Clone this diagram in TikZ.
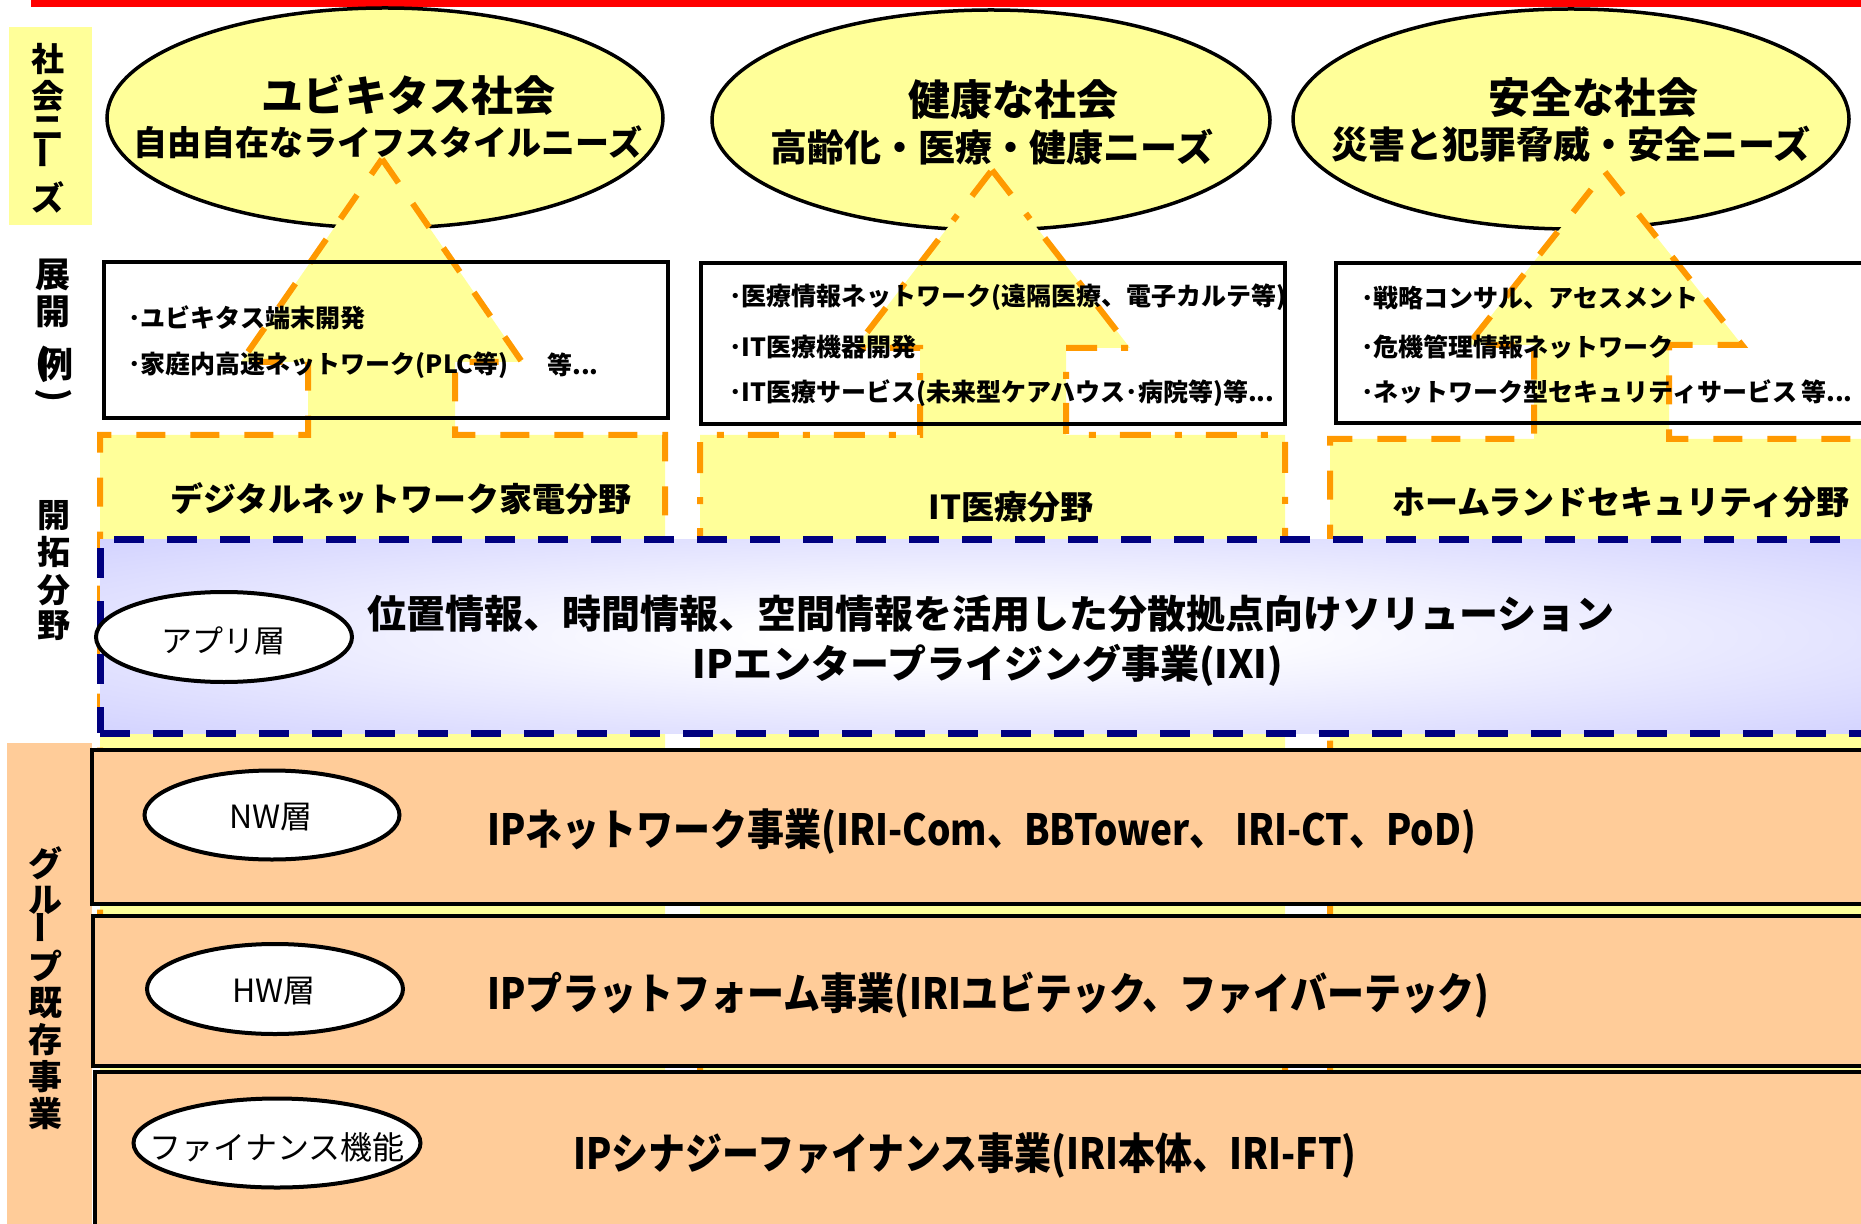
\documentclass[tikz,border=0pt]{standalone}
\usepackage{fontspec}
\setmainfont{Noto Sans CJK JP}
\newfontfamily\lyrfont[FakeStretch=0.86]{Noto Sans CJK JP}
\usetikzlibrary{shapes.geometric}
\definecolor{yel}{HTML}{FFFF99}
\definecolor{orng}{HTML}{FF9900}
\definecolor{lorg}{HTML}{FFCC99}
\definecolor{navyc}{HTML}{000080}
\definecolor{lav}{HTML}{CCCCFF}
\pgfdeclareradialshading{appshade}{\pgfpoint{0bp}{0bp}}{color(0bp)=(white); color(6bp)=(white); color(40bp)=(lav); color(50bp)=(lav)}
\newcommand\jpsz[1]{\fontsize{#1pt}{#1pt}\selectfont}
\begin{document}
\begin{tikzpicture}[x=0.5pt,y=-0.5pt,
  bigell/.style={ellipse, draw=black, line width=1.75pt, fill=yel, inner sep=0pt, minimum width=278pt, minimum height=110pt},
  smell/.style={ellipse, draw=black, line width=2pt, fill=white, inner sep=0pt},
  colA/.style={fill=yel, draw=orng, line width=3pt, dash pattern=on 14.5pt off 12.5pt},
  colB/.style={fill=yel, draw=orng, line width=3pt, dash pattern=on 15.5pt off 12pt on 3.5pt off 12pt},
  ebox/.style={draw=black, line width=1.75pt, inner sep=0pt},
  layer/.style={draw=black, line width=2pt, fill=lorg, inner sep=0pt},
  txt/.style={inner sep=0pt},
  smtxt/.style={inner sep=0pt, font=\jpsz{16}},
  lyrtxt/.style={inner sep=0pt, anchor=west, font=\lyrfont\bfseries\jpsz{21.5}},
  btxt/.style={inner sep=0pt, anchor=west, font=\bfseries\jpsz{12.5}},
  vlab/.style={inner sep=0pt, font=\bfseries\jpsz{16.5}},
]
\useasboundingbox (0,0) rectangle (1861,1224);
\clip (0,0) rectangle (1861,1224);

% top red bar and needs label
\fill[red] (31,0) rectangle (1861,7);
\node[fill=yel, inner sep=0pt, minimum width=41.5pt, minimum height=99pt] (needbox) at (50.5,126) {};

% society ellipses
\node[bigell] (e1) at (385,118) {};
\node[bigell, minimum width=279pt] (e2) at (991,120) {};
\node[bigell] (e3) at (1571,119) {};

% arrows + field columns
\path[colA] (382,159) -- (522,362) -- (455,362) -- (455,435) -- (665,435) -- (665,1240)
  -- (100,1240) -- (100,435) -- (308,435) -- (308,362) -- (241,362) -- cycle;
\path[colB] (992,170) -- (1130,348) -- (1066,348) -- (1066,435) -- (1285,435) -- (1285,1240)
  -- (700,1240) -- (700,435) -- (920,435) -- (920,348) -- (855,348) -- cycle;
\path[colA] (1605,172) -- (1742,345) -- (1669,345) -- (1669,439) -- (1885,439) -- (1885,1240)
  -- (1330,1240) -- (1330,439) -- (1534,439) -- (1534,345) -- (1468,345) -- cycle;

% ellipse texts
\node[txt, font=\bfseries\jpsz{21}] (e1a) at (408,95) {ユビキタス社会};
\node[txt, font=\bfseries\jpsz{17}] (e1b) at (388,142) {自由自在なライフスタイルニーズ};
\node[txt, font=\bfseries\jpsz{21}] (e2a) at (1013,100) {健康な社会};
\node[txt, font=\bfseries\jpsz{18.5}] (e2b) at (992,147) {高齢化・医療・健康ニーズ};
\node[txt, font=\bfseries\jpsz{21}] (e3a) at (1593,97) {安全な社会};
\node[txt, font=\bfseries\jpsz{18.5}] (e3b) at (1571,144) {災害と犯罪脅威・安全ニーズ};

% example boxes
\node[ebox, minimum width=282pt, minimum height=78pt] (b1) at (386,340) {};
\node[ebox, minimum width=292pt, minimum height=80.5pt] (b2) at (993,343.5) {};
\node[ebox, minimum width=282pt, minimum height=80pt] (b3) at (1618,343) {};

\node[btxt] (b1l1) at (128,318) {･ユビキタス端末開発};
\node[btxt] (b1l2) at (128,365) {･家庭内高速ネットワーク(PLC等)};
\node[btxt] (b1l2e) at (547,365) {等...};
\node[btxt] (b2l1) at (729,297) {･医療情報ネットワーク(遠隔医療、電子カルテ等)};
\node[btxt] (b2l2) at (729,347) {･IT医療機器開発};
\node[btxt] (b2l3) at (729,393) {･IT医療サービス(未来型ケアハウス･病院等)等...};
\node[btxt] (b3l1) at (1361,298) {･戦略コンサル、アセスメント};
\node[btxt] (b3l2) at (1361,347) {･危機管理情報ネットワーク};
\node[btxt] (b3l3) at (1361,392) {･ネットワーク型セキュリティサービス};
\node[btxt] (b3l3e) at (1801,392) {等...};

% field titles
\node[txt, font=\bfseries\jpsz{16.5}] (f1) at (401,499) {デジタルネットワーク家電分野};
\node[txt, font=\bfseries\jpsz{16.5}] (f2) at (1011,507) {IT医療分野};
\node[txt, font=\bfseries\jpsz{16.5}] (f3) at (1621,502) {ホームランドセキュリティ分野};

% application layer
\node[draw=navyc, line width=3.5pt, dash pattern=on 15pt off 11.5pt, shading=appshade,
  minimum width=890pt, minimum height=97pt, inner sep=0pt] (app) at (990,636) {};
\node[smell, minimum width=128pt, minimum height=45pt] (appell) at (224,637) {};
\node[txt, font=\jpsz{15.5}] (appellt) at (223,641) {アプリ層};
\node[txt, font=\bfseries\jpsz{19.5}] (appt1) at (991,614) {位置情報、時間情報、空間情報を活用した分散拠点向けソリューション};
\node[txt, font=\bfseries\jpsz{19.5}] (appt2) at (988,665) {IPエンタープライジング事業(IXI)};

% existing business layers
\node[fill=lorg, inner sep=0pt, minimum width=42.5pt, minimum height=248.5pt] (grpbox) at (49.5,991.5) {};
\node[layer, minimum width=894pt, minimum height=77pt] (nw) at (986,827) {};
\node[layer, minimum width=893.5pt, minimum height=75pt] (hw) at (986.5,991) {};
\node[layer, minimum width=892.5pt, minimum height=84pt] (fin) at (987.5,1156) {};

\node[smell, minimum width=127.5pt, minimum height=44.5pt] (nwell) at (272,815) {};
\node[smtxt] (nwellt) at (271,817) {NW層};
\node[smell, minimum width=128pt, minimum height=45pt] (hwell) at (275,989) {};
\node[smtxt] (hwellt) at (274,991) {HW層};
\node[smell, minimum width=143.5pt, minimum height=44.5pt] (finell) at (277,1143) {};
\node[smtxt] (finellt) at (277,1147) {ファイナンス機能};

\node[lyrtxt] (nwt) at (487,831) {IPネットワーク事業(IRI-Com、BBTower、 IRI-CT、PoD)};
\node[lyrtxt] (hwt) at (487,995) {IPプラットフォーム事業(IRIユビテック、ファイバーテック)};
\node[lyrtxt] (fint) at (573,1155) {IPシナジーファイナンス事業(IRI本体、IRI-FT)};

% vertical row labels
\node[vlab] (n1) at (48,59) {社};
\node[vlab] (n2) at (48,96) {会};
\node[vlab] (n3) at (48,128) {ニ};
\node[vlab, rotate=90] (n4) at (48,153) {ー};
\node[vlab] (n5) at (48,197) {ズ};

\node[vlab, font=\bfseries\jpsz{17.5}] (d1) at (53,275) {展};
\node[vlab, font=\bfseries\jpsz{17.5}] (d2) at (53,312) {開};
\node[vlab, font=\bfseries\jpsz{17.5}] (d3) at (42,364) {(};
\node[vlab, font=\bfseries\jpsz{17.5}] (d4) at (56,364) {例};
\node[vlab, font=\bfseries\jpsz{17.5}, rotate=-90] (d5) at (54,396) {)};

\node[vlab] (k1) at (54,516) {開};
\node[vlab] (k2) at (54,552) {拓};
\node[vlab] (k3) at (54,590) {分};
\node[vlab] (k4) at (54,626) {野};

\node[vlab, font=\bfseries\jpsz{17}] (g1) at (45,863) {グ};
\node[vlab, font=\bfseries\jpsz{17}] (g2) at (45,900) {ル};
\node[vlab, font=\bfseries\jpsz{17}, rotate=90] (g3) at (45,927) {ー};
\node[vlab, font=\bfseries\jpsz{17}] (g4) at (45,966) {プ};
\node[vlab, font=\bfseries\jpsz{17}] (g5) at (45,1003) {既};
\node[vlab, font=\bfseries\jpsz{17}] (g6) at (45,1040) {存};
\node[vlab, font=\bfseries\jpsz{17}] (g7) at (45,1077) {事};
\node[vlab, font=\bfseries\jpsz{17}] (g8) at (45,1114) {業};
\end{tikzpicture}
\end{document}
